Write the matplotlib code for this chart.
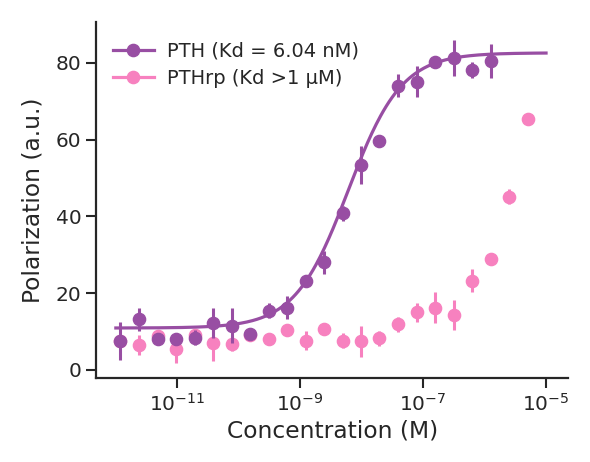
import matplotlib
matplotlib.use("Agg")
import matplotlib.pyplot as plt
import numpy as np

# ---------- Data ----------
# two-fold dilution series, molar
conc = [1.19e-12, 2.38e-12, 4.77e-12, 9.54e-12, 1.91e-11, 3.81e-11, 7.63e-11,
        1.53e-10, 3.05e-10, 6.10e-10, 1.22e-9, 2.44e-9, 4.88e-9, 9.77e-9,
        1.95e-8, 3.91e-8, 7.81e-8, 1.56e-7, 3.13e-7, 6.25e-7, 1.25e-6,
        2.5e-6, 5.0e-6]

pth_y = [7.6, 13.2, 8.0, 8.0, 8.4, 12.2, 11.5, 9.4, 15.4, 16.2, 23.2, 28.1,
         40.8, 53.4, 59.7, 74.0, 75.1, 80.3, 81.2, 78.1, 80.5]
pth_err = [5.0, 3.0, 0.5, 1.0, 2.0, 4.0, 4.5, 0.5, 2.0, 3.0, 1.0, 3.0,
           2.0, 5.0, 0.5, 3.0, 4.0, 0.5, 4.7, 2.0, 4.5]

pthrp_y = [7.5, 6.5, 8.7, 5.4, 9.1, 6.9, 6.8, 9.0, 8.1, 10.4, 7.6, 10.7,
           7.6, 7.4, 8.2, 11.9, 15.0, 16.2, 14.3, 23.2, 28.8, 45.1, 65.4]
pthrp_err = [1.5, 2.5, 1.0, 3.5, 1.5, 4.5, 2.0, 1.0, 1.0, 1.0, 2.5, 1.0,
             2.0, 4.0, 2.0, 2.0, 2.5, 4.0, 4.0, 3.0, 1.5, 2.0, 1.0]

# fit parameters for PTH
kd = 6.04e-9
bottom, top = 10.9, 82.6

purple = "#984ea3"
pink = "#f781bf"

# ---------- Figure ----------
plt.rcParams['font.family'] = ['DejaVu Sans']
fig = plt.figure(figsize=(5.9, 4.62), dpi=100)
ax = fig.add_axes([0.163, 0.182, 0.8, 0.77])

xfit = np.logspace(-12, -5, 300)
yfit = bottom + (top - bottom) * xfit / (kd + xfit)

ax.errorbar(conc[:len(pthrp_y)], pthrp_y, yerr=pthrp_err, fmt='o', color=pink,
            ms=8.8, elinewidth=2.2, capsize=0, zorder=2)
ax.errorbar(conc[:len(pth_y)], pth_y, yerr=pth_err, fmt='o', color=purple,
            ms=8.8, elinewidth=2.2, capsize=0, zorder=3)
ax.plot(xfit, yfit, color=purple, lw=2.3, zorder=3)

# legend handles: line + marker
h1, = ax.plot([], [], '-o', color=purple, ms=8.8, lw=2.3)
h2, = ax.plot([], [], '-o', color=pink, ms=8.8, lw=2.3)
ax.legend([h1, h2], ["PTH (Kd = 6.04 nM)", "PTHrp (Kd >1 µM)"],
          loc='upper left', frameon=False, fontsize=14, labelcolor='#262626',
          bbox_to_anchor=(-0.002, 0.995), handlelength=2.1, handletextpad=0.7,
          labelspacing=0.45)

ax.set_xscale('log')
ax.set_xlim(10**-12.32, 10**-4.64)
ax.set_ylim(-2.1, 90.6)
ax.set_xticks([1e-11, 1e-9, 1e-7, 1e-5])
ax.xaxis.set_minor_locator(matplotlib.ticker.NullLocator())
ax.set_yticks([0, 20, 40, 60, 80])

ax.set_xlabel("Concentration (M)", fontsize=16.8, color='#262626', labelpad=4)
ax.set_ylabel("Polarization (a.u.)", fontsize=16.8, color='#262626', labelpad=8)
ax.tick_params(labelsize=14.5, width=1.5, length=7, colors='#262626')
for s in ['top', 'right']:
    ax.spines[s].set_visible(False)
for s in ['left', 'bottom']:
    ax.spines[s].set_linewidth(1.6)
    ax.spines[s].set_color('#262626')

fig.savefig("out.png", dpi=100)
